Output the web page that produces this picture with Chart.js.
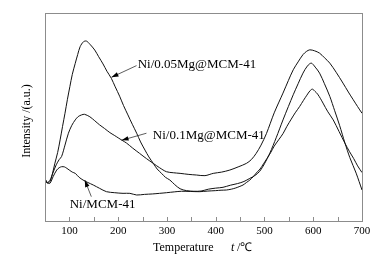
<!DOCTYPE html>
<html>
<head>
<meta charset="utf-8">
<script src="https://cdn.jsdelivr.net/npm/chart.js@4/dist/chart.umd.min.js"></script>
<style>
html,body{margin:0;padding:0;background:#fff;}
#wrap{width:392px;height:256px;position:relative;}
</style>
</head>
<body>
<div id="wrap"><canvas id="c"></canvas></div>
<script>
// Tick labels on x axis (every 50, labelled at 100s)
const xTickValues = [50,100,150,200,250,300,350,400,450,500,550,600,650,700];
const xTickLabels = ['', '100', '', '200', '', '300', '', '400', '', '500', '', '600', '', '700'];

// Ni/0.05Mg@MCM-41
const tempA = [52,54,60,65,70,76,81,86,91,96,101,106,112,117,122,129,135,142,152,160,169,177,186,194,203,211,220,229,238,246,255,263,272,280,289,297,306,316,327,340,355,370,385,400,415,430,445,458,470,480,490,500,511,524,538,549,559,569,579,588,596,604,613,623,634,644,654,665,675,688,700];
const intA = [19.5,18.5,18.9,22.5,27.5,33,39,45.5,51.8,58.5,64.6,70.5,75.8,80,83.8,86.2,86.5,85,82.2,79,75.5,72,68.6,64.5,60,55.5,51,46.5,42.2,38,34.1,30.8,27.7,25,22.9,21,19.7,17.5,15.5,14.6,14.3,14.4,15.3,15.8,16.2,17.2,18,19,20.5,21.8,23.8,27.5,32.6,40,48.6,55,60.7,66,71.1,74.5,75.9,74,71.1,66,59.9,53,46,37.5,30.5,23,14.9];

// Ni/0.1Mg@MCM-41
const tempB = [52,54,60,66,73,79,84,91,98,105,112,118,125,131,142,152,162,172,183,192,200,208,217,230,244,258,272,285,299,313,327,345,361,378,395,412,429,446,463,473,483,493,504,520,538,549,559,569,579,586,593,603,613,623,634,647,661,672,682,691,700];
const intB = [19.5,18.5,19.5,23,27,29.5,31,36.5,42.2,46,48.6,50.2,51,51.3,50.1,48.2,46.2,44.5,42.5,41.2,40,38.8,37.5,35,32.5,30,27.7,25.6,23.7,23.2,22.9,22.4,22.1,21.8,22.9,23.5,24.5,26,27.7,29.5,32.5,36.5,42,52,61.5,67.5,72.7,76.5,80,81.5,82.3,81.8,80.7,78.5,75.9,71.5,66.3,62,58.3,55,51.8];

// Ni/MCM-41
const tempC = [52,54,60,67,74,79,84,90,95,101,106,112,120,128,138,149,162,176,193,210,224,238,254,270,285,299,315,330,348,367,384,400,411,422,432,440,448,456,463,470,477,483,491,498,505,513,520,529,538,546,555,563,572,580,587,593,598,603,609,615,620,630,641,653,665,674,683,691,700];
const intC = [19.5,18.3,18.1,21.5,24.5,25.6,26.1,26,25.3,24.3,23.5,22.9,21,19.7,18.5,17.3,15.7,14.1,13.6,13.3,13.3,12.5,12.8,13,13.3,13.6,14,14.3,14.2,14.1,14.4,14.6,14.8,14.9,15.3,15.8,16.5,17.3,18.5,19.7,21.3,23,25,27.5,30,33,36,39,42,45.5,49,52,55,58,60.5,62.5,63.4,62.5,61,58.8,56.7,52.5,48.6,43,37.4,33.5,30,26.5,23.3];

const seriesNames = ['Ni/0.05Mg@MCM-41','Ni/0.1Mg@MCM-41','Ni/MCM-41'];

// Annotation anchors in data units: text position, arrow start, arrow tip
const labelAnchors = [
  {text: seriesNames[0], tx: 240, ty: 75, ax: 237.7, ay: 74.7, bx: 186.3, by: 69.1},
  {text: seriesNames[1], tx: 271, ty: 41.3, ax: 258, ay: 42.2, bx: 207, by: 38.8},
  {text: seriesNames[2], tx: 100.7, ty: 7.7, ax: 145, ay: 11.7, bx: 131.5, by: 19.7}
];

function pts(t, v){ return t.map((x,i)=>({x:x, y:v[i]})); }

const FONT = '"Liberation Serif", "Times New Roman", serif';

const decor = {
  id: 'decor',
  afterDraw(chart){
    const ctx = chart.ctx, a = chart.chartArea;
    const xs = chart.scales.x, ys = chart.scales.y;
    ctx.save();
    // frame
    ctx.strokeStyle = '#8c8c8c';
    ctx.lineWidth = 1;
    ctx.strokeRect(Math.round(a.left)+0.5, Math.round(a.top)+0.5, Math.round(a.right-a.left), Math.round(a.bottom-a.top));
    // inward ticks on bottom axis
    ctx.beginPath();
    xTickValues.forEach(v=>{
      const px = Math.round(xs.getPixelForValue(v))+0.5;
      ctx.moveTo(px, a.bottom);
      ctx.lineTo(px, a.bottom-4);
    });
    ctx.stroke();
    // annotations
    ctx.fillStyle = '#000';
    ctx.strokeStyle = '#333';
    ctx.font = '13px ' + FONT;
    ctx.textBaseline = 'middle';
    ctx.textAlign = 'left';
    labelAnchors.forEach(l=>{
      ctx.fillText(l.text, xs.getPixelForValue(l.tx), ys.getPixelForValue(l.ty));
      const x1 = xs.getPixelForValue(l.ax), y1 = ys.getPixelForValue(l.ay);
      const x2 = xs.getPixelForValue(l.bx), y2 = ys.getPixelForValue(l.by);
      ctx.lineWidth = 0.8;
      ctx.beginPath(); ctx.moveTo(x1,y1); ctx.lineTo(x2,y2); ctx.stroke();
      const ang = Math.atan2(y2-y1, x2-x1), L = 7, W = 2.3;
      ctx.beginPath();
      ctx.moveTo(x2, y2);
      ctx.lineTo(x2 - L*Math.cos(ang) + W*Math.sin(ang), y2 - L*Math.sin(ang) - W*Math.cos(ang));
      ctx.lineTo(x2 - L*Math.cos(ang) - W*Math.sin(ang), y2 - L*Math.sin(ang) + W*Math.cos(ang));
      ctx.closePath();
      ctx.fill();
    });
    // y axis title
    ctx.save();
    ctx.translate(26.5, (a.top + a.bottom)/2 + 4);
    ctx.rotate(-Math.PI/2);
    ctx.textAlign = 'center';
    ctx.font = '12px ' + FONT;
    ctx.fillText('Intensity /(a.u.)', 0, 0);
    ctx.restore();
    // x axis title
    ctx.font = '12px ' + FONT;
    ctx.textAlign = 'left';
    const ty = 248;
    ctx.fillText('Temperature', 153, ty);
    ctx.font = 'italic 12px ' + FONT;
    ctx.fillText('t', 231, ty);
    ctx.font = '12px ' + FONT;
    ctx.fillText(' /\u2103', 234, ty);
    ctx.restore();
  }
};

const ds = (name, t, v) => ({
  label: name, data: pts(t, v), borderColor: '#111', borderWidth: 1,
  pointRadius: 0, tension: 0.3, fill: false
});

new Chart(document.getElementById('c'), {
  type: 'line',
  data: { datasets: [ ds(seriesNames[0], tempA, intA), ds(seriesNames[1], tempB, intB), ds(seriesNames[2], tempC, intC) ] },
  options: {
    responsive: true, maintainAspectRatio: false, animation: false,
    layout: { padding: { top: 13, right: 30, left: 0, bottom: 0 } },
    plugins: { legend: { display: false }, tooltip: { enabled: false } },
    scales: {
      x: {
        type: 'linear', min: 50, max: 700,
        afterFit(s){ s.height = 35; },
        afterBuildTicks(s){ s.ticks = xTickValues.map(v=>({value:v})); },
        grid: { display: false, drawTicks: false },
        border: { display: false },
        ticks: {
          autoSkip: false, maxRotation: 0, padding: 4, color: '#000',
          font: { family: FONT, size: 11 },
          callback: (v) => { const i = xTickValues.indexOf(v); return i >= 0 ? xTickLabels[i] : ''; }
        }
      },
      y: {
        min: 0, max: 100,
        afterFit(s){ s.width = 45; },
        grid: { display: false, drawTicks: false },
        border: { display: false },
        ticks: { display: false }
      }
    }
  },
  plugins: [decor]
});
</script>
</body>
</html>
